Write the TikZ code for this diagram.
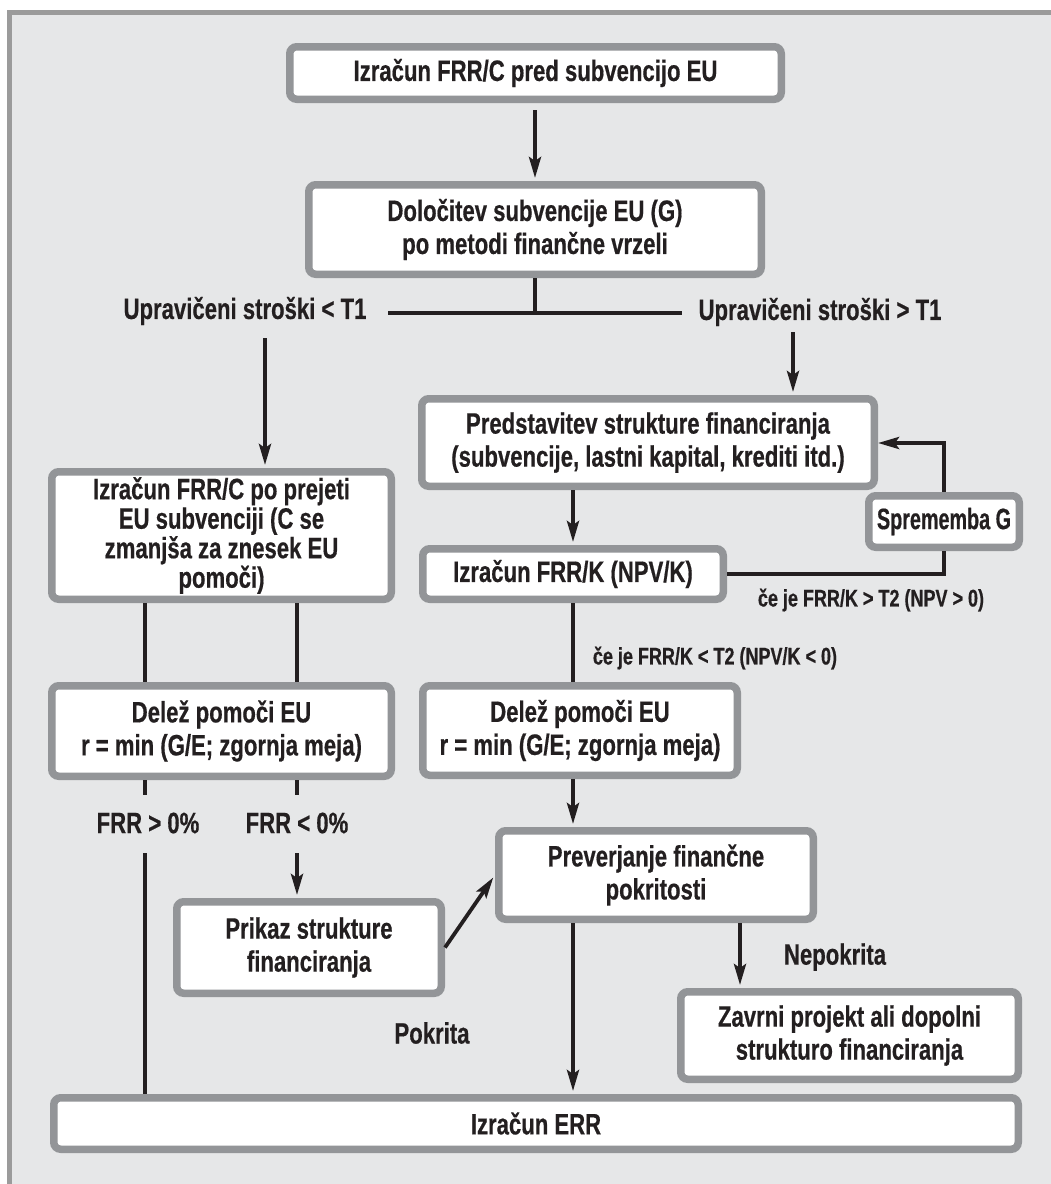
\documentclass[tikz,border=0pt]{standalone}
\usepackage{fontspec}
\newfontfamily\cond{Liberation Sans}[FakeStretch=0.75, BoldFeatures={FakeBold=0.5}]
\newfontfamily\condn{Liberation Sans}[FakeStretch=0.67, BoldFeatures={FakeBold=0.5}]
\usetikzlibrary{arrows.meta,calc}
\definecolor{bg}{HTML}{E6E7E8}
\definecolor{framegray}{HTML}{9B9B9B}
\definecolor{bgray}{HTML}{939598}
\definecolor{ink}{HTML}{231F20}
\begin{document}
\begin{tikzpicture}[x=1pt,y=-1pt,
  box/.style={draw=bgray, line width=7.5pt, fill=white, rounded corners=7pt, align=center, inner sep=0pt, text=ink, font=\cond\bfseries\fontsize{29.5}{33}\selectfont},
  lbl/.style={text=ink, font=\cond\bfseries\fontsize{29.5}{33}\selectfont, inner sep=0pt},
  slbl/.style={text=ink, font=\cond\bfseries\fontsize{24}{28}\selectfont, inner sep=0pt},
  conn/.style={draw=ink, line width=3.8pt},
  arr/.style={conn, shorten >=3pt, -{Stealth[length=21pt,width=12pt,inset=4pt]}},
]
\useasboundingbox (0,0) rectangle (1051,1184);
\fill[bg] (7,10) rectangle (1051,1184);
\draw[framegray, line width=4.5pt] (9.5,1184) -- (9.5,12.5) -- (1051,12.5);

\node[box, minimum width=491.5pt, minimum height=52.5pt] (b1) at (535.5,73) {Izračun FRR/C pred subvencijo EU};
\node[box, minimum width=452.5pt, minimum height=89.5pt] (b2) at (535,229.5) {Določitev subvencije EU (G)\\po metodi finančne vrzeli};
\node[lbl] (l1) at (245,311) {Upravičeni stroški < T1};
\node[lbl] (r1) at (820,312) {Upravičeni stroški > T1};
\node[box, minimum width=339.5pt, minimum height=127.5pt, font=\cond\bfseries\fontsize{29.5}{29.5}\selectfont] (frrc) at (221.5,535.5) {Izračun FRR/C po prejeti\\EU subvenciji (C se\\zmanjša za znesek EU\\pomoči)};
\node[box, minimum width=452.5pt, minimum height=87.5pt] (pred) at (648,442.5) {Predstavitev strukture financiranja\\(subvencije, lastni kapital, krediti itd.)};
\node[box, minimum width=150.5pt, minimum height=51.5pt, font=\condn\bfseries\fontsize{29.5}{33}\selectfont] (spr) at (944,521.5) {Sprememba G};
\node[box, minimum width=300.5pt, minimum height=50.5pt] (frrk) at (573,574) {Izračun FRR/K (NPV/K)};
\node[slbl] (gt) at (871,600) {če je FRR/K > T2 (NPV > 0)};
\node[slbl] (lt) at (715,658) {če je FRR/K < T2 (NPV/K < 0)};
\node[box, minimum width=339.5pt, minimum height=90.5pt] (dell) at (221.5,731) {Delež pomoči EU\\r = min (G/E; zgornja meja)};
\node[box, minimum width=314.5pt, minimum height=89.5pt] (delr) at (580,730.5) {Delež pomoči EU\\r = min (G/E; zgornja meja)};
\node[lbl] (fp) at (148,823) {FRR > 0\%};
\node[lbl] (fn) at (297,823) {FRR < 0\%};
\node[box, minimum width=264.5pt, minimum height=91.5pt] (pri) at (309,947.5) {Prikaz strukture\\financiranja};
\node[box, minimum width=314.5pt, minimum height=88.5pt] (prev) at (656,875) {Preverjanje finančne\\pokritosti};
\node[lbl] (nep) at (835,957) {Nepokrita};
\node[lbl] (pok) at (432,1033) {Pokrita};
\node[box, minimum width=337.5pt, minimum height=87.5pt] (zav) at (849.5,1035.5) {Zavrni projekt ali dopolni\\strukturo financiranja};
\node[box, minimum width=964.5pt, minimum height=51.5pt] (err) at (536,1123.5) {Izračun ERR};

% coordinates for free ends
\coordinate (hl) at (388,313);
\coordinate (hr) at (682,313);
\coordinate (la) at (265,338);
\coordinate (ra) at (793,332);
\coordinate (lp) at (944,443);
\coordinate (xa) at (145,795);
\coordinate (xb) at (297,795);
\coordinate (ua) at (145,853);
\coordinate (ub) at (297,853);
\coordinate (zx) at (740,0);

\draw[arr, shorten <=7pt] (b2.north |- b1.south) -- (b2.north);
\draw[conn] (b2.south) -- (b2.south |- hl);
\draw[conn] (hl) -- (hr);
\draw[arr] (la) -- (la |- frrc.north);
\draw[arr] (ra) -- (ra |- pred.north);
\draw[arr] (frrk.north |- pred.south) -- (frrk.north);
\draw[conn] (frrk.east) -- (frrk.east -| spr.south) -- (spr.south);
\draw[arr, shorten >=0pt] (spr.north) -- (lp) -- (lp -| pred.east);
\draw[conn] (frrk.south) -- (frrk.south |- delr.north);
\draw[arr] (frrk.south |- delr.south) -- (frrk.south |- prev.north);
\draw[conn] (xa |- frrc.south) -- (xa |- dell.north);
\draw[conn] (xb |- frrc.south) -- (xb |- dell.north);
\draw[conn] (xa |- dell.south) -- (xa);
\draw[conn] (xb |- dell.south) -- (xb);
\draw[conn] (ua) -- (ua |- err.north);
\draw[arr] (ub) -- (ub |- pri.north);
\draw[arr] (pri.east) -- (prev.west);
\draw[arr] (frrk.south |- prev.south) -- (frrk.south |- err.north);
\draw[arr] (zx |- prev.south) -- (zx |- zav.north);
\end{tikzpicture}
\end{document}
